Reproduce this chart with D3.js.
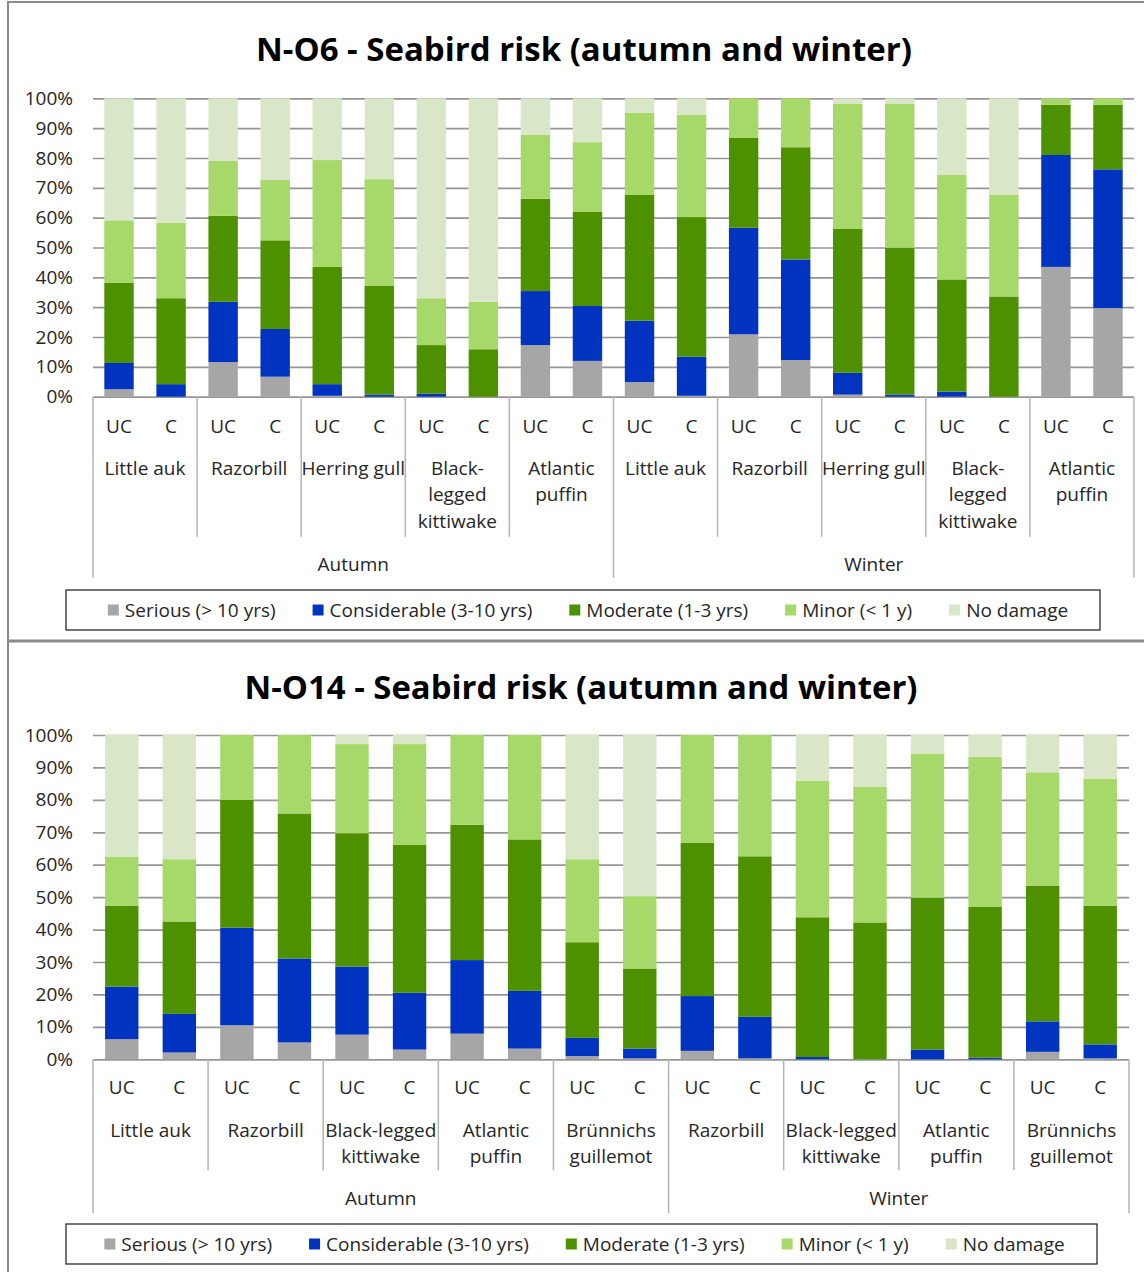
<!DOCTYPE html>
<html>
<head>
<meta charset="utf-8">
<script src="https://cdn.jsdelivr.net/npm/d3@7"></script>
<style>
  html, body { margin: 0; padding: 0; background: #fff; }
  svg { display: block; }
  text { font-family: "Open Sans", Lato, sans-serif; fill: #262626; }
</style>
</head>
<body>
<svg id="chart" width="1144" height="1272"></svg>
<script>
// ---- shared series definitions ----
const seriesNames = ["Serious (> 10 yrs)", "Considerable (3-10 yrs)", "Moderate (1-3 yrs)", "Minor (< 1 y)", "No damage"];
const seriesKeys = ["serious", "considerable", "moderate", "minor", "none"];
const palette = ["#a6a6a6", "#0033bf", "#4e9100", "#a6d86a", "#d9e6c7"];
const treatments = ["UC", "C"];
const yTicks = [0, 10, 20, 30, 40, 50, 60, 70, 80, 90, 100];

// ---- N-O6 ----
const o6Title = "N-O6 - Seabird risk (autumn and winter)";
const o6Seasons = ["Autumn", "Winter"];
const o6AutumnSpecies = ["Little auk", "Razorbill", "Herring gull", "Black-\nlegged\nkittiwake", "Atlantic\npuffin"];
const o6WinterSpecies = ["Little auk", "Razorbill", "Herring gull", "Black-\nlegged\nkittiwake", "Atlantic\npuffin"];
// percent of each bar, in bar order (season > species > UC, C)
const o6Serious      = [2.5, 0, 11.6, 6.7, 0.3, 0, 0, 0, 17.3, 12.0, 4.9, 0.3, 20.9, 12.3, 0.7, 0, 0, 0, 43.5, 29.7];
const o6Considerable = [8.8, 4.2, 20.2, 16.0, 3.9, 0.7, 1.0, 0, 18.1, 18.4, 20.6, 13.1, 35.7, 33.7, 7.3, 0.7, 1.7, 0, 37.5, 46.5];
const o6Moderate     = [26.9, 28.8, 28.8, 29.7, 39.3, 36.4, 16.3, 15.9, 30.9, 31.5, 42.1, 46.8, 30.1, 37.6, 48.2, 49.2, 37.6, 33.6, 16.8, 21.6];
const o6Minor        = [20.9, 25.3, 18.4, 20.2, 35.8, 35.8, 15.7, 15.9, 21.4, 23.4, 27.6, 34.3, 13.3, 16.4, 41.9, 48.2, 35.0, 34.0, 2.2, 2.2];
const o6NoDamage     = [40.9, 41.7, 21.0, 27.4, 20.7, 27.1, 67.0, 68.2, 12.3, 14.7, 4.8, 5.5, 0, 0, 1.9, 1.9, 25.7, 32.4, 0, 0];

// ---- N-O14 ----
const o14Title = "N-O14 - Seabird risk (autumn and winter)";
const o14Seasons = ["Autumn", "Winter"];
const o14AutumnSpecies = ["Little auk", "Razorbill", "Black-legged\nkittiwake", "Atlantic\npuffin", "Brünnichs\nguillemot"];
const o14WinterSpecies = ["Razorbill", "Black-legged\nkittiwake", "Atlantic\npuffin", "Brünnichs\nguillemot"];
const o14Serious      = [6.2, 2.1, 10.5, 5.2, 7.6, 3.0, 7.9, 3.3, 1.0, 0.3, 2.6, 0.3, 0, 0, 0, 0, 2.3, 0.3];
const o14Considerable = [16.2, 11.9, 30.1, 25.9, 21.0, 17.5, 22.7, 17.8, 5.6, 3.0, 16.9, 12.8, 0.7, 0, 3.0, 0.5, 9.4, 4.3];
const o14Moderate     = [25.0, 28.5, 39.4, 44.7, 41.1, 45.6, 41.7, 46.7, 29.5, 24.7, 47.3, 49.5, 43.1, 42.2, 46.8, 46.6, 41.8, 42.8];
const o14Minor        = [15.0, 19.2, 20.0, 24.2, 27.5, 31.1, 27.7, 32.2, 25.6, 22.3, 33.2, 37.4, 42.1, 41.9, 44.5, 46.2, 35.0, 39.1];
const o14NoDamage     = [37.6, 38.3, 0, 0, 2.8, 2.8, 0, 0, 38.3, 49.7, 0, 0, 14.1, 15.9, 5.7, 6.7, 11.5, 13.5];

const LABEL_SIZE = 19;
const svg = d3.select("#chart");

// outer frame of the two stacked panels
svg.append("line").attr("x1", 8).attr("x2", 1144).attr("y1", 2).attr("y2", 2)
  .attr("stroke", "#8a8a8a").attr("stroke-width", 2);
svg.append("line").attr("x1", 8).attr("x2", 8).attr("y1", 1).attr("y2", 1272)
  .attr("stroke", "#8a8a8a").attr("stroke-width", 2);
svg.append("line").attr("x1", 8).attr("x2", 1144).attr("y1", 641).attr("y2", 641)
  .attr("stroke", "#8a8a8a").attr("stroke-width", 3);

function drawPanel(cfg) {
  const g = svg.append("g");
  const { left, right, top, bottom } = cfg.plot;

  // flatten season > species > treatment into one row per bar
  const rows = [];
  const seasonSpans = [];
  const speciesSpans = [];
  cfg.seasons.forEach((season, si) => {
    const start = rows.length;
    cfg.speciesBySeason[si].forEach(sp => {
      const s0 = rows.length;
      treatments.forEach(t => rows.push({ season, species: sp, treatment: t }));
      speciesSpans.push({ name: sp, from: s0, to: rows.length });
    });
    seasonSpans.push({ name: season, from: start, to: rows.length });
  });
  rows.forEach((r, i) => seriesKeys.forEach((k, j) => { r[k] = cfg.values[j][i]; }));
  rows.forEach((r, i) => { r.idx = i; });

  const x = d3.scaleBand().domain(d3.range(rows.length)).range([left, right])
    .paddingInner(cfg.pad).paddingOuter(cfg.pad / 2);
  const y = d3.scaleLinear().domain([0, 100]).range([bottom, top]);
  const step = x.step();
  const edge = i => left + step * i;

  // title
  g.append("text").attr("x", cfg.titleX).attr("y", cfg.titleY)
    .attr("text-anchor", "middle").attr("dominant-baseline", "central")
    .style("font-size", cfg.titleSize + "px").style("font-weight", "bold").style("fill", "#000")
    .attr("textLength", cfg.titleWidth).attr("lengthAdjust", "spacingAndGlyphs")
    .text(cfg.title);

  // horizontal gridlines
  g.append("g").selectAll("line").data(yTicks).join("line")
    .attr("x1", left).attr("x2", right)
    .attr("y1", d => y(d) + 0.5).attr("y2", d => y(d) + 0.5)
    .attr("stroke", "#969696").attr("stroke-width", 1.7);

  // y axis labels
  const yAxis = d3.axisLeft(y).tickValues(yTicks).tickFormat(d => d + "%").tickSize(0).tickPadding(20);
  const ya = g.append("g").attr("transform", `translate(${left},0)`).call(yAxis);
  ya.select(".domain").remove();
  ya.selectAll("text").style("font-size", LABEL_SIZE + "px").style("font-family", null).attr("fill", null);

  // stacked bars
  const stacked = d3.stack().keys(seriesKeys)(rows);
  g.append("g").selectAll("g").data(stacked).join("g")
    .attr("fill", (d, i) => palette[i])
    .selectAll("rect").data(d => d).join("rect")
    .attr("x", d => x(d.data.idx))
    .attr("width", x.bandwidth())
    .attr("y", d => y(d[1]))
    .attr("height", d => Math.max(0, y(d[0]) - y(d[1])));

  // treatment labels
  g.append("g").selectAll("text").data(rows).join("text")
    .attr("x", d => x(d.idx) + x.bandwidth() / 2)
    .attr("y", bottom + cfg.treatY)
    .attr("text-anchor", "middle").attr("dominant-baseline", "central")
    .style("font-size", LABEL_SIZE + "px")
    .text(d => d.treatment);

  // species labels (multi-line)
  const sp = g.append("g").selectAll("text").data(speciesSpans).join("text")
    .attr("text-anchor", "middle")
    .style("font-size", LABEL_SIZE + "px");
  sp.each(function (d) {
    const cx = (edge(d.from) + edge(d.to)) / 2;
    d3.select(this).selectAll("tspan").data(d.name.split("\n")).join("tspan")
      .attr("x", cx)
      .attr("y", (t, i) => bottom + cfg.speciesY + i * cfg.lineH)
      .attr("dominant-baseline", "central")
      .text(t => t);
  });

  // separators between species and between seasons
  const seasonEdges = new Set(seasonSpans.flatMap(s => [s.from, s.to]));
  const speciesEdges = Array.from(new Set(speciesSpans.flatMap(s => [s.from, s.to])));
  g.append("g").selectAll("line").data(speciesEdges).join("line")
    .attr("x1", d => edge(d)).attr("x2", d => edge(d))
    .attr("y1", bottom)
    .attr("y2", d => bottom + (seasonEdges.has(d) ? cfg.seasonSep : cfg.speciesSep))
    .attr("stroke", "#b4b4b4").attr("stroke-width", 1.5);

  // season labels
  g.append("g").selectAll("text").data(seasonSpans).join("text")
    .attr("x", d => (edge(d.from) + edge(d.to)) / 2)
    .attr("y", bottom + cfg.seasonY)
    .attr("text-anchor", "middle").attr("dominant-baseline", "central")
    .style("font-size", LABEL_SIZE + "px")
    .text(d => d.name);

  // legend
  const lb = cfg.legend;
  g.append("rect").attr("x", lb.x).attr("y", lb.y).attr("width", lb.w).attr("height", lb.h)
    .attr("fill", "#fff").attr("stroke", "#1a1a1a").attr("stroke-width", 1.2);
  const items = g.append("g").selectAll("g").data(seriesNames).join("g");
  items.append("rect").attr("width", 11).attr("height", 11).attr("y", -5.5)
    .attr("fill", (d, i) => palette[i]);
  items.append("text").attr("x", 17).attr("dominant-baseline", "central")
    .style("font-size", LABEL_SIZE + "px").text(d => d);
  const widths = [];
  items.each(function () { widths.push(this.getBBox().width); });
  const gap = 37;
  const total = d3.sum(widths) + gap * (widths.length - 1);
  let cx = lb.x + (lb.w - total) / 2 + lb.shift;
  items.attr("transform", (d, i) => {
    const tx = cx;
    cx += widths[i] + gap;
    return `translate(${tx},${lb.y + lb.h / 2})`;
  });
}

drawPanel({
  title: o6Title, titleX: 584, titleY: 48, titleSize: 32, titleWidth: 656,
  plot: { left: 93, right: 1134, top: 98.3, bottom: 396.7 },
  pad: 0.435,
  seasons: o6Seasons,
  speciesBySeason: [o6AutumnSpecies, o6WinterSpecies],
  values: [o6Serious, o6Considerable, o6Moderate, o6Minor, o6NoDamage],
  treatY: 29, speciesY: 71, lineH: 26.5, seasonY: 167,
  speciesSep: 140, seasonSep: 181,
  legend: { x: 66, y: 590, w: 1034, h: 40, shift: 5 }
});

drawPanel({
  title: o14Title, titleX: 581, titleY: 686, titleSize: 32, titleWidth: 673,
  plot: { left: 93, right: 1129, top: 735, bottom: 1059.3 },
  pad: 0.42,
  seasons: o14Seasons,
  speciesBySeason: [o14AutumnSpecies, o14WinterSpecies],
  values: [o14Serious, o14Considerable, o14Moderate, o14Minor, o14NoDamage],
  treatY: 28, speciesY: 71, lineH: 26, seasonY: 139,
  speciesSep: 111, seasonSep: 154,
  legend: { x: 66, y: 1224, w: 1031, h: 40, shift: 3 }
});
</script>
</body>
</html>
